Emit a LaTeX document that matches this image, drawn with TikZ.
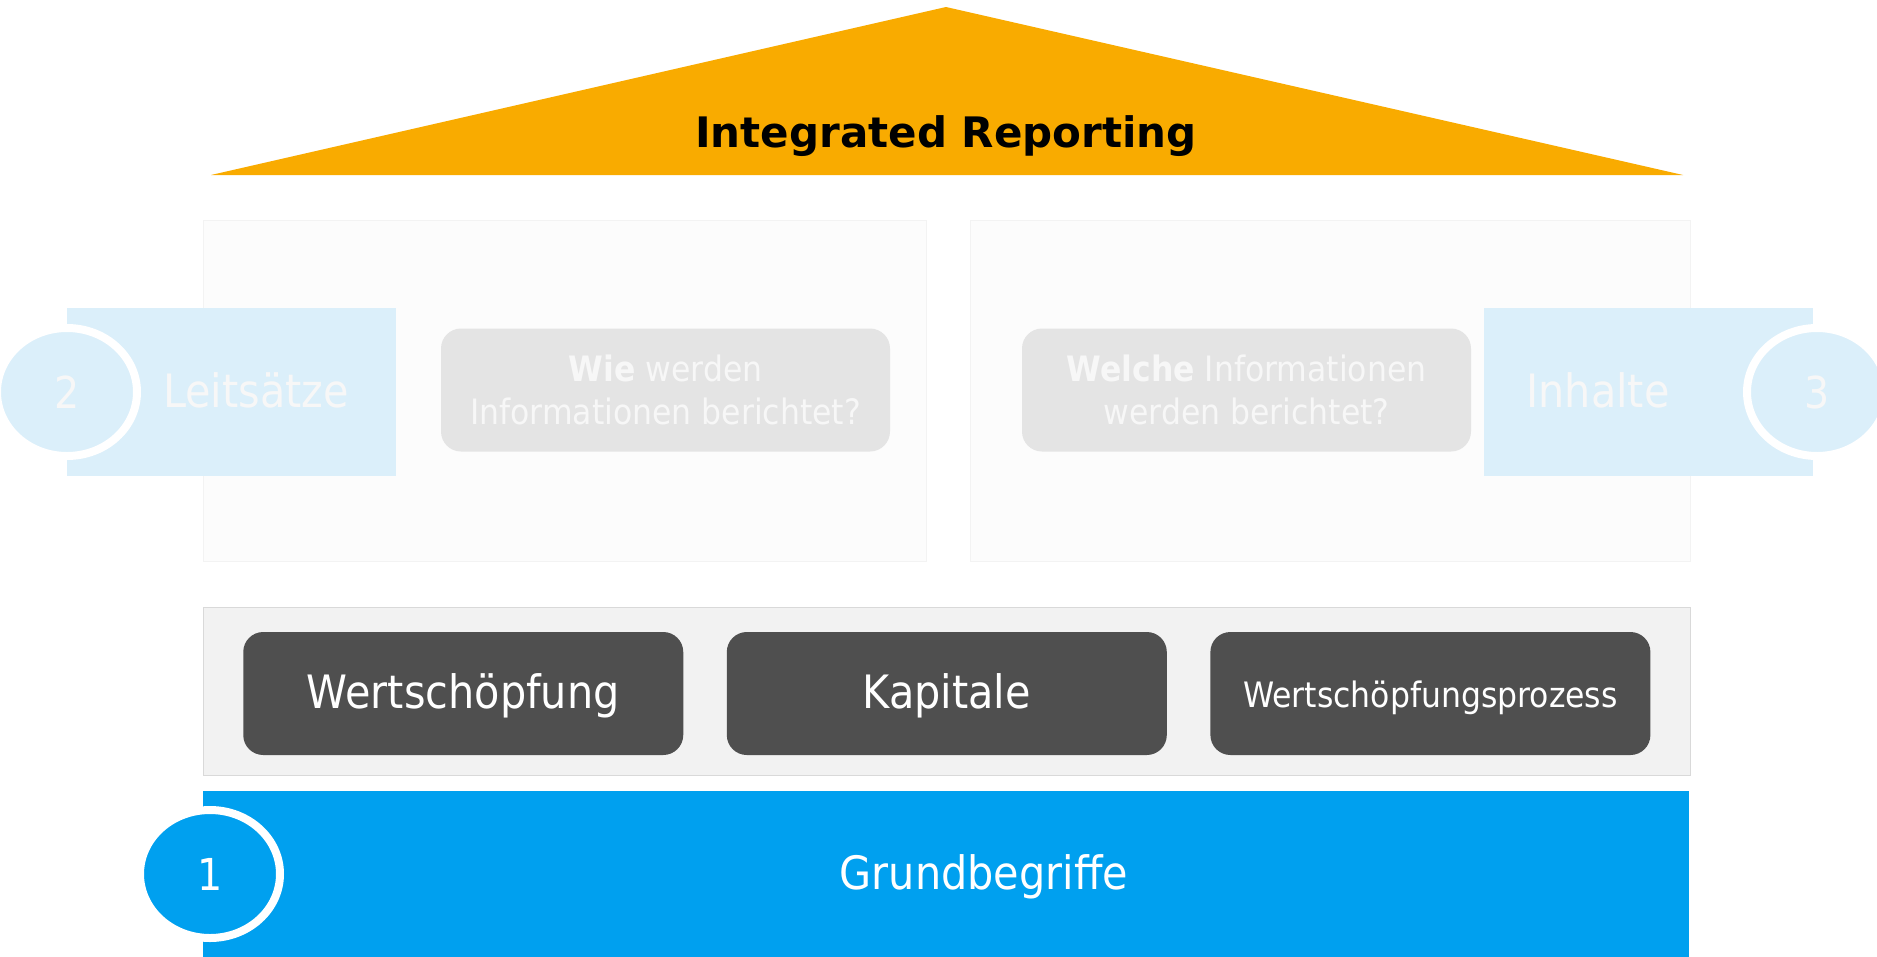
\documentclass[tikz,border=0pt]{standalone}
\usepackage{fontspec}
\setmainfont{DejaVu Sans}[FakeStretch=0.9]
\newfontfamily\titlefont{DejaVu Sans}
\usetikzlibrary{shapes.geometric}
\definecolor{roofc}{HTML}{F9AB00}
\definecolor{barblue}{HTML}{00A0EF}
\definecolor{lblue}{HTML}{DBEFFA}
\definecolor{panelfill}{HTML}{FCFCFC}
\definecolor{panelline}{HTML}{F3F3F3}
\definecolor{qfill}{HTML}{E4E4E4}
\definecolor{ltxt}{HTML}{F7F7F7}
\definecolor{basefill}{HTML}{F2F2F2}
\definecolor{baseline}{HTML}{D9D9D9}
\definecolor{darkbox}{HTML}{4F4F4F}
\begin{document}
\begin{tikzpicture}[x=1pt,y=-1pt,
  panel/.style={draw=panelline, fill=panelfill, line width=1pt, inner sep=0pt, minimum height=341pt},
  lbox/.style={fill=lblue, inner sep=0pt, minimum width=329pt, minimum height=168pt},
  bigtext/.style={text=ltxt, inner sep=0pt, font=\fontsize{46}{55}\selectfont},
  numc/.style={ellipse, draw=white, line width=8pt, inner sep=0pt, minimum width=140pt, minimum height=128pt, font=\fontsize{44}{52}\selectfont},
  qbox/.style={fill=qfill, rounded corners=20pt, inner sep=0pt, minimum width=449pt, minimum height=123pt, align=center, text=ltxt, font=\fontsize{35}{43}\selectfont},
  dbox/.style={fill=darkbox, rounded corners=20pt, inner sep=0pt, minimum width=440pt, minimum height=123pt, text=white, text depth=0pt}
]
\useasboundingbox (0,0) rectangle (1877,956);
\fill[white] (0,0) rectangle (1877,956);

% roof
\fill[roofc] (211,175) -- (946,7) -- (1683,175) -- cycle;
\node[anchor=base, inner sep=0pt, font=\titlefont\bfseries\fontsize{42}{50}\selectfont] (ir) at (946,147) {Integrated Reporting};

% upper panels
\node[panel, minimum width=723pt] (lp) at (565,390.5) {};
\node[panel, minimum width=720pt] (rp) at (1330,390.5) {};

% side label boxes
\node[lbox] (lb) at (231.5,392) {};
\node[lbox] (rb) at (1648.5,392) {};
\node[bigtext, anchor=base] (lt) at (256,407) {Leitsätze};
\node[bigtext, anchor=base] (rt) at (1598,407) {Inhalte};
\node[numc, fill=lblue, text=ltxt] (c2) at (67,392) {2};
\node[numc, fill=lblue, text=ltxt] (c3) at (1817,392) {3};

% question boxes
\node[qbox] (q1) at (665.5,390) {\textbf{Wie} werden\\Informationen berichtet?};
\node[qbox] (q2) at (1246.5,390) {\textbf{Welche} Informationen\\werden berichtet?};

% base row
\node[draw=baseline, fill=basefill, line width=1pt, inner sep=0pt, minimum width=1487pt, minimum height=168pt] (bp) at (946.75,691.85) {};
\node[dbox, text height=29pt, font=\fontsize{46}{55}\selectfont] (d1) at (463.25,693.5) {Wertschöpfung};
\node[dbox, text height=29pt, font=\fontsize{46}{55}\selectfont] (d2) at (946.8,693.5) {Kapitale};
\node[dbox, text height=27pt, font=\fontsize{35}{42}\selectfont] (d3) at (1430.4,693.5) {Wertschöpfungsprozess};

% foundation
\node[fill=barblue, inner sep=0pt, minimum width=1486pt, minimum height=172pt] (gb) at (946,877) {};
\node[anchor=base, text=white, inner sep=0pt, font=\fontsize{46}{55}\selectfont] (gt) at (984,889) {Grundbegriffe};
\node[numc, fill=barblue, text=white] (c1) at (210,874) {1};
\end{tikzpicture}
\end{document}
